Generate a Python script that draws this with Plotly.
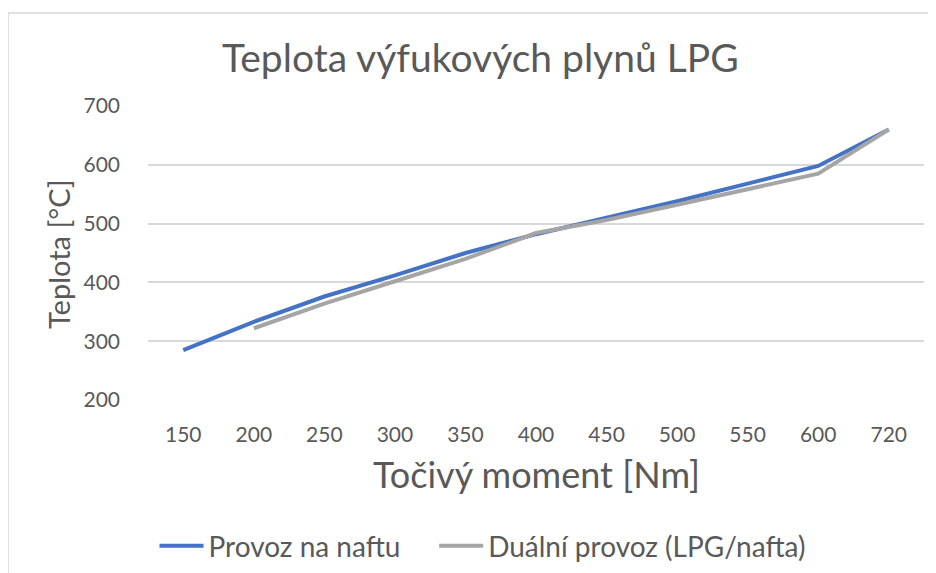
import plotly.graph_objects as go

moment = ["150", "200", "250", "300", "350", "400", "450", "500", "550", "600", "720"]
nafta = [285, 333, 376, 412, 450, 482, 510, 538, 568, 598, 660]
dual = [None, 322, 364, 402, 440, 484, 506, 532, 558, 585, 660]

FONT = "Lato"
GREY_TXT = "#595959"

fig = go.Figure()
# trailing no-break spaces widen the gap between the two legend entries
fig.add_trace(go.Scatter(x=moment, y=nafta, mode="lines", name="Provoz na naftu\u00a0\u00a0\u00a0\u00a0",
                         line=dict(color="#4472C4", width=4)))
fig.add_trace(go.Scatter(x=moment, y=dual, mode="lines", name="Duální provoz (LPG/nafta)",
                         line=dict(color="#A5A5A5", width=4)))

# page body has an 8px margin, so the figure is 8px smaller and all targets shift by 8
OFF = 8
W, H = 936 - OFF, 573 - OFF
L, R, T, B = 148 - OFF, 936 - 924, 106 - OFF, 573 - 400
pw, ph = W - L - R, H - T - B


def px(x):
    return (x - OFF - L) / pw


def py(y):
    return (H - B - (y - OFF)) / ph


fig.update_layout(
    width=W, height=H,
    margin=dict(l=L, r=R, t=T, b=B, autoexpand=False),
    paper_bgcolor="white", plot_bgcolor="white",
    font=dict(family=FONT, color=GREY_TXT),
    showlegend=True,
    legend=dict(orientation="h", x=px(483), xanchor="center", y=py(546), yanchor="middle",
                font=dict(size=28, color=GREY_TXT), itemwidth=44, tracegroupgap=0),
    xaxis=dict(type="category", range=[-0.5, 10.5], showgrid=False, zeroline=False, showline=False,
               tickfont=dict(size=21, color=GREY_TXT), ticks="", ticklabelstandoff=20),
    yaxis=dict(range=[200, 700], dtick=100, showgrid=True, gridcolor="#D9D9D9", gridwidth=1.5,
               zeroline=False, showline=False, tickfont=dict(size=21, color=GREY_TXT),
               ticks="", ticklabelstandoff=27),
)

fig.add_annotation(text="Teplota výfukových plynů LPG", xref="paper", yref="paper",
                   x=px(480), y=py(57), showarrow=False, xanchor="center", yanchor="middle",
                   font=dict(size=39, color=GREY_TXT, family=FONT))
fig.add_annotation(text="Točivý moment [Nm]", xref="paper", yref="paper",
                   x=px(536), y=py(474), showarrow=False, xanchor="center", yanchor="middle",
                   font=dict(size=36, color=GREY_TXT, family=FONT))
fig.add_annotation(text="Teplota [°C]", xref="paper", yref="paper", textangle=-90,
                   x=px(58), y=py(254), showarrow=False, xanchor="center", yanchor="middle",
                   font=dict(size=29, color=GREY_TXT, family=FONT))

# chart border (only left and top visible in the crop)
fig.add_shape(type="line", xref="paper", yref="paper", x0=px(8), x1=px(960), y0=py(13), y1=py(13),
              line=dict(color="#D9D9D9", width=1.5))
fig.add_shape(type="line", xref="paper", yref="paper", x0=px(8), x1=px(8), y0=py(13), y1=py(600),
              line=dict(color="#D9D9D9", width=1.5))

fig.write_html("out.html")
